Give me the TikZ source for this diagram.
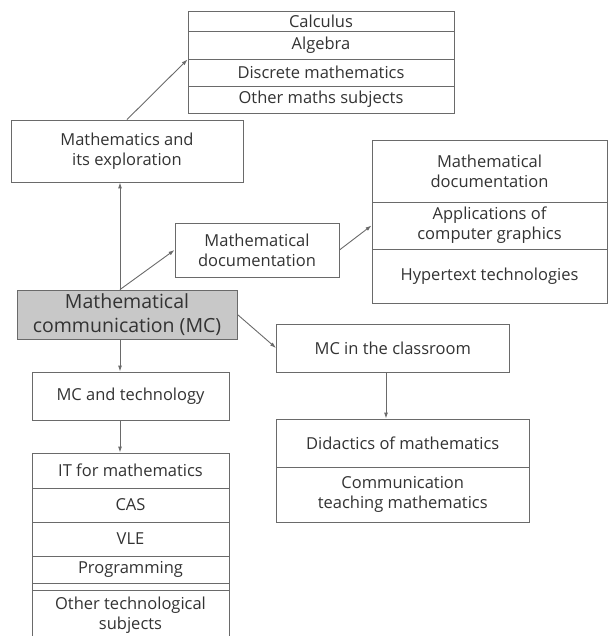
\documentclass[tikz,border=0pt]{standalone}
\usepackage{fontspec}
\setmainfont{Open Sans}
\usetikzlibrary{arrows.meta}
\definecolor{linegray}{HTML}{6A6A6A}
\definecolor{textgray}{HTML}{333333}
\definecolor{mcgray}{HTML}{C8C8C8}

\begin{document}
\begin{tikzpicture}[x=1pt,y=-1pt,
    box/.style={draw=linegray, fill=white, text=textgray, align=center,
      inner sep=0pt, line width=0.9pt, font=\fontsize{16.5}{20}\selectfont},
    mainbox/.style={box, fill=mcgray, font=\fontsize{19.5}{24}\selectfont},
    link/.style={->, draw=linegray, line width=0.9pt},
    >={Latex[length=6pt,width=4pt]}]
    \useasboundingbox (0,0) rectangle (609,636);
    \clip (0,0) rectangle (609,636);
    \coordinate (spine) at (120,0);
    \coordinate (drop) at (386,0);

    % maths subjects
    \node[box, minimum width=266pt, minimum height=20pt] (calc) at (321,21) {Calculus};
    \node[box, minimum width=266pt, minimum height=28pt] (alg) at (321,45) {Algebra};
    \node[box, minimum width=266pt, minimum height=27pt] (discr) at (321,72.5) {Discrete mathematics};
    \node[box, minimum width=266pt, minimum height=27pt] (othmath) at (321,99.5) {Other maths subjects};
    \node[box, minimum width=232pt, minimum height=62pt] (explore) at (127,151) {Mathematics and\\its exploration};

    % documentation
    \node[box, minimum width=164pt, minimum height=54pt] (docu) at (257,250) {Mathematical\\documentation};
    \node[box, minimum width=235pt, minimum height=62pt] (mathdoc) at (489.5,171) {Mathematical\\documentation};
    \node[box, minimum width=235pt, minimum height=47pt] (apps) at (489.5,225.5) {Applications of\\computer graphics};
    \node[box, minimum width=235pt, minimum height=54pt] (hyper) at (489.5,276) {Hypertext technologies};

    % centre
    \node[mainbox, minimum width=220pt, minimum height=49pt] (mc) at (127,314.5) {Mathematical\\communication (MC)};

    % classroom
    \node[box, minimum width=232.5pt, minimum height=48pt] (class) at (392.75,348) {MC in the classroom};
    \node[box, minimum width=252.5pt, minimum height=48pt] (didact) at (402.75,443) {Didactics of mathematics};
    \node[box, minimum width=252.5pt, minimum height=55pt] (comm) at (402.75,494.5) {Communication\\teaching mathematics};

    % technology
    \node[box, minimum width=197pt, minimum height=48pt] (tech) at (130.5,396) {MC and technology};
    \node[box, minimum width=197pt, minimum height=35pt] (itmath) at (130.5,470.5) {IT for mathematics};
    \node[box, minimum width=197pt, minimum height=34pt] (cas) at (130.5,505) {CAS};
    \node[box, minimum width=197pt, minimum height=34pt] (vle) at (130.5,539) {VLE};
    \node[box, minimum width=197pt, minimum height=27pt] (prog) at (130.5,569.5) {Programming};
    \node[box, minimum width=197pt, minimum height=7pt] (strip) at (130.5,586.5) {};
    \node[box, minimum width=197pt, minimum height=50pt] (othtech) at (130.5,615) {Other technological\\subjects};

    \draw[link] (explore.north) -- (alg.south west);
    \draw[link] (mc.north -| spine) -- (explore.south -| spine);
    \draw[link] (mc.north -| spine) -- (docu.west);
    \draw[link] (docu.east) -- (apps.west);
    \draw[link] (mc.east) -- (class.west);
    \draw[link] (class.south -| drop) -- (didact.north -| drop);
    \draw[link] (mc.south -| spine) -- (tech.north -| spine);
    \draw[link] (tech.south -| spine) -- (itmath.north -| spine);
\end{tikzpicture}
\end{document}
